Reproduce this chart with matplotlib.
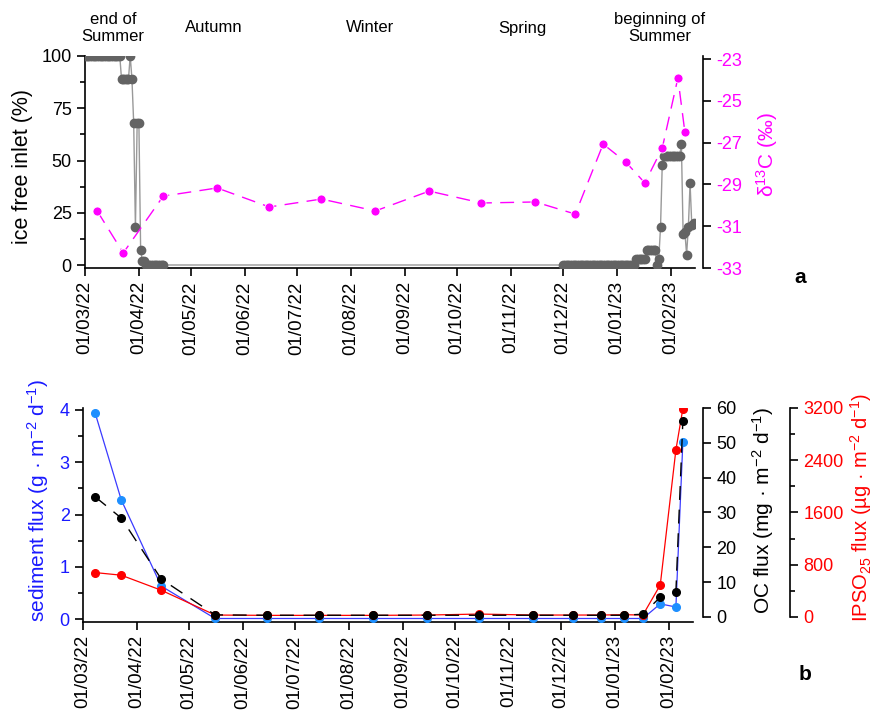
import numpy as np
import pandas as pd
import matplotlib
matplotlib.use("Agg")
import matplotlib.pyplot as plt
import matplotlib.dates as mdates
from matplotlib.ticker import MultipleLocator

plt.rcParams['font.family'] = ['Liberation Sans', 'DejaVu Sans']
plt.rcParams['mathtext.default'] = 'regular'
plt.rcParams['axes.unicode_minus'] = False

# ---- panel a : ice free inlet (daily) ----
ice_start1 = "2022-03-01"
ice_vals1 = [100, 100, 100, 100, 100, 100, 100, 100, 100, 100, 100, 100, 100, 100,
             100, 100, 100, 100, 100, 100, 100, 89, 89, 89, 89, 89, 100, 89, 68, 18,
             68, 68, 7, 2, 2, 0, 0, 0, 0, 0, 0, 0, 0, 0, 0, 0]
ice_start2 = "2022-12-01"
ice_vals2 = [0, 0, 0, 0, 0, 0, 0, 0, 0, 0, 0, 0, 0, 0, 0, 0, 0, 0, 0, 0, 0,
             0, 0, 0, 0, 0, 0, 0, 0, 0, 0, 0, 0, 0, 0, 0, 0, 0, 0, 0, 0, 0,
             3, 3, 3, 3, 3, 3, 7, 7, 7, 7, 7, 7, 0, 3, 18, 48,
             52, 52, 52, 52, 52, 52, 52, 52, 52, 52, 58, 15, 16, 5, 18, 39, 19, 20]

# ---- sampling dates (trap) ----
trap_dates = ["2022-03-08", "2022-03-23", "2022-04-15", "2022-05-16", "2022-06-15",
              "2022-07-15", "2022-08-15", "2022-09-15", "2022-10-15", "2022-11-15",
              "2022-12-08", "2022-12-24", "2023-01-06", "2023-01-17", "2023-01-27",
              "2023-02-05", "2023-02-09"]
d13c = [-30.27, -32.28, -29.56, -29.17, -30.08, -29.70, -30.27, -29.32, -29.89,
        -29.84, -30.42, -27.07, -27.93, -28.93, -27.26, -23.91, -26.49]

# ---- panel b ----
sediment_flux = [3.94, 2.28, 0.63, 0.01, 0.01, 0.01, 0.01, 0.01, 0.01, 0.01,
                 0.01, 0.01, 0.01, 0.01, 0.29, 0.23, 3.39]
oc_flux = [34.5, 28.4, 10.9, 0.6, 0.5, 0.5, 0.5, 0.5, 0.5, 0.5,
           0.5, 0.5, 0.5, 0.8, 5.7, 7.2, 56.3]
ipso_flux = [680, 640, 410, 30, 25, 25, 25, 30, 45, 30,
             30, 30, 35, 30, 490, 2560, 3190]

ice_d1 = pd.date_range(ice_start1, periods=len(ice_vals1), freq="D")
ice_d2 = pd.date_range(ice_start2, periods=len(ice_vals2), freq="D")
ice_dates = ice_d1.append(ice_d2)
ice_vals = ice_vals1 + ice_vals2
tdates = pd.to_datetime(trap_dates)

W, H = 875, 714
fig = plt.figure(figsize=(W / 100, H / 100), dpi=100)

def fax(l, r, t, b):
    return fig.add_axes([l / W, 1 - b / H, (r - l) / W, (b - t) / H])

xmin = pd.Timestamp("2022-03-01")
xmax = pd.Timestamp("2023-02-14 20:00")
MAG = "#ff00ff"
BLUE = "#1a1aff"
RED = "#ff0000"

def style_xaxis(ax):
    ax.set_xlim(xmin, xmax)
    ax.xaxis.set_major_locator(mdates.MonthLocator())
    ax.xaxis.set_major_formatter(mdates.DateFormatter("%d/%m/%y"))
    for lab in ax.get_xticklabels():
        lab.set_rotation(90)
    ax.tick_params(axis="x", labelsize=13.5, length=6, width=1.2, direction="out")
    ax.spines["top"].set_visible(False)

# ================= panel a =================
axa = fax(85, 695, 56, 268)
axa.plot(ice_dates, ice_vals, color="#999999", lw=1, zorder=2)
axa.plot(ice_dates, ice_vals, ls="none", marker="o", ms=6, color="#636363", zorder=3)
axa.set_ylim(-1.435, 100)
axa.yaxis.set_major_locator(MultipleLocator(25))
axa.yaxis.set_minor_locator(MultipleLocator(12.5))
axa.tick_params(axis="y", labelsize=13, length=6, width=1.2)
axa.tick_params(axis="y", which="minor", length=3.5, width=1.2)
axa.set_ylabel("ice free inlet (%)", fontsize=15.5)
axa.yaxis.set_label_coords(-0.085, 0.48)
axa.spines["right"].set_visible(False)
for s in ["left", "bottom"]:
    axa.spines[s].set_linewidth(1.2)
style_xaxis(axa)

axa2 = axa.twinx()
axa2.plot(tdates, d13c, color=MAG, lw=1, ls=(0, (10, 6)), marker="o", ms=6.5,
          markeredgecolor="white", markeredgewidth=0.6, zorder=4)
axa2.set_ylim(-33, -22.856)
axa2.set_yticks([-23, -25, -27, -29, -31, -33])
axa2.tick_params(axis="y", labelsize=13, labelcolor=MAG, length=6, width=1.2)
axa2.spines["right"].set_position(("outward", 5.8))
axa2.spines["right"].set_linewidth(1.2)
for s in ["left", "top", "bottom"]:
    axa2.spines[s].set_visible(False)
axa2.set_ylabel("δ$^{13}$C (‰)", color=MAG, fontsize=15,
                family=["Liberation Sans", "DejaVu Sans"])
axa2.yaxis.set_label_coords(1.097, 0.533)
axa2.set_xlim(xmin, xmax)

# season labels
for txt, x in [("end of\nSummer", 113), ("Autumn", 214), ("Winter", 370),
               ("Spring", 522), ("beginning of\nSummer", 660)]:
    fig.text(x / W, 1 - 28 / H, txt, ha="center", va="center", fontsize=12,
             linespacing=1.15)

fig.text(800 / W, 1 - 278 / H, "a", ha="center", va="center", fontsize=15,
         fontweight="bold")

# ================= panel b =================
axb = fax(83, 693, 408, 622)
axb.set_ylim(-0.057, 4.038)
axb.yaxis.set_major_locator(MultipleLocator(1))
axb.yaxis.set_minor_locator(MultipleLocator(0.5))
axb.tick_params(axis="y", labelsize=13, labelcolor=BLUE, length=6, width=1.2)
axb.tick_params(axis="y", which="minor", length=3.5, width=1.2)
axb.set_ylabel("sediment flux (g · m$^{-2}$ d$^{-1}$)", color=BLUE, fontsize=15)
axb.yaxis.set_label_coords(-0.053, 0.57)
axb.spines["right"].set_visible(False)
for s in ["left", "bottom"]:
    axb.spines[s].set_linewidth(1.2)
style_xaxis(axb)

axip = axb.twinx()
axip.set_ylim(-76.6, 3200)
axip.yaxis.set_major_locator(MultipleLocator(800))
axip.yaxis.set_minor_locator(MultipleLocator(400))
axip.tick_params(axis="y", labelsize=13, labelcolor=RED, length=6, width=1.2)
axip.tick_params(axis="y", which="minor", length=3.5, width=1.2)
axip.spines["right"].set_position(("outward", 70))
axip.spines["right"].set_bounds(0, 3200)
axip.set_ylabel("IPSO$_{25}$ flux (µg · m$^{-2}$ d$^{-1}$)", color=RED, fontsize=14.5)
axip.yaxis.set_label_coords(1.255, 0.537)

axoc = axb.twinx()
axoc.set_ylim(-1.44, 60)
axoc.yaxis.set_major_locator(MultipleLocator(10))
axoc.tick_params(axis="y", labelsize=13, length=6, width=1.2)
axoc.spines["right"].set_position(("outward", 7.2))
axoc.spines["right"].set_bounds(0, 60)
axoc.set_ylabel("OC flux (mg · m$^{-2}$ d$^{-1}$)", fontsize=15)
axoc.yaxis.set_label_coords(1.093, 0.523)

for a in (axoc, axip):
    a.spines["right"].set_linewidth(1.2)
    for s in ["left", "top", "bottom"]:
        a.spines[s].set_visible(False)
    a.set_xlim(xmin, xmax)

axb.plot(tdates, sediment_flux, color="#3a3aff", lw=0.9, marker="o", ms=5.5,
         markerfacecolor="#1e8fff", markeredgecolor="#1e8fff", zorder=3)
axip.plot(tdates, ipso_flux, color=RED, lw=0.9, marker="o", ms=5.5, zorder=3)
axoc.plot(tdates, oc_flux, color="black", lw=1, ls=(0, (10, 7)), marker="o", ms=5.5,
          zorder=4)

fig.text(805 / W, 1 - 675 / H, "b", ha="center", va="center", fontsize=15,
         fontweight="bold")

fig.savefig("out.png", dpi=100)
